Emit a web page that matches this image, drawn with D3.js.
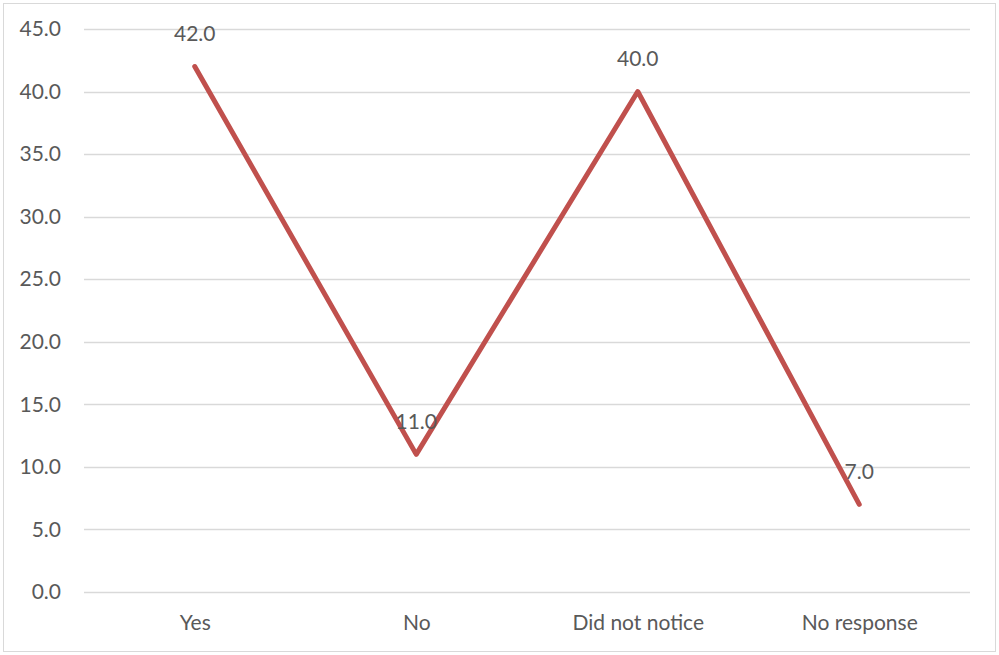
<!DOCTYPE html>
<html>
<head>
<meta charset="utf-8">
<script src="https://cdn.jsdelivr.net/npm/d3@7"></script>
<style>
  html, body { margin: 0; padding: 0; background: #fff; }
  svg { display: block; }
  text { font-family: Lato, "Open Sans", sans-serif; fill: #595959; }
</style>
</head>
<body>
<svg id="chart" width="999" height="655"></svg>
<script>
// Survey responses (percent)
const categories = ["Yes", "No", "Did not notice", "No response"];
const values = [42.0, 11.0, 40.0, 7.0];
const yTicks = [0, 5, 10, 15, 20, 25, 30, 35, 40, 45];

const W = 999, H = 655;
const margin = { top: 29, right: 29, bottom: 63, left: 84 };
const fontSize = "21px";
const svg = d3.select("#chart");

// outer frame
svg.append("rect")
  .attr("x", 3.5).attr("y", 3.5)
  .attr("width", W - 7).attr("height", H - 7)
  .attr("fill", "#fff").attr("stroke", "#d9d9d9").attr("stroke-width", 1);

const x = d3.scalePoint()
  .domain(categories)
  .range([margin.left, W - margin.right])
  .padding(0.5);

const y = d3.scaleLinear()
  .domain([0, 45])
  .range([H - margin.bottom, margin.top]);

// horizontal gridlines
svg.append("g")
  .selectAll("line")
  .data(yTicks)
  .join("line")
  .attr("x1", margin.left).attr("x2", W - margin.right)
  .attr("y1", d => Math.round(y(d)) + 0.5).attr("y2", d => Math.round(y(d)) + 0.5)
  .attr("stroke", "#d9d9d9").attr("stroke-width", 1.3);

// y axis labels
const yAxis = d3.axisLeft(y).tickValues(yTicks).tickFormat(d3.format(".1f")).tickSize(0).tickPadding(23);
const gy = svg.append("g").attr("transform", `translate(${margin.left},0)`).call(yAxis);
gy.select(".domain").remove();
gy.selectAll("text").style("font-size", fontSize).attr("fill", "#595959")
  .style("font-family", "Lato, 'Open Sans', sans-serif");

// x axis labels
const xAxis = d3.axisBottom(x).tickSize(0).tickPadding(23);
const gx = svg.append("g").attr("transform", `translate(0,${H - margin.bottom})`).call(xAxis);
gx.select(".domain").remove();
gx.selectAll("text").style("font-size", fontSize).attr("fill", "#595959")
  .style("font-family", "Lato, 'Open Sans', sans-serif");

// series line
const line = d3.line()
  .x((d, i) => x(categories[i]))
  .y(d => y(d));

svg.append("path")
  .datum(values)
  .attr("d", line)
  .attr("fill", "none")
  .attr("stroke", "#c0504d")
  .attr("stroke-width", 5)
  .attr("stroke-linejoin", "round")
  .attr("stroke-linecap", "round");

// data labels
svg.append("g")
  .selectAll("text")
  .data(values)
  .join("text")
  .attr("x", (d, i) => x(categories[i]))
  .attr("y", d => y(d) - 33)
  .attr("dy", "0.35em")
  .attr("text-anchor", "middle")
  .style("font-size", fontSize)
  .text(d => d3.format(".1f")(d));
</script>
</body>
</html>
